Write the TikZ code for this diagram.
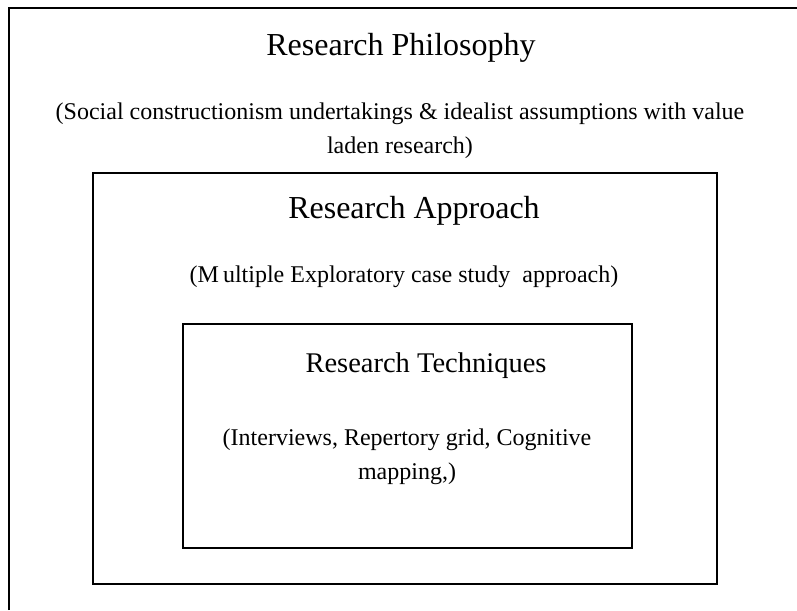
\documentclass[tikz,border=0pt]{standalone}
\usepackage{fontspec}
\setmainfont{Liberation Serif}
\begin{document}
\begin{tikzpicture}[x=1pt,y=-1pt,
  frame/.style={draw=black,line width=1.6pt},
  boxnode/.style={frame,rectangle,inner sep=0pt},
  headtext/.style={anchor=base,inner sep=0pt,font=\fontsize{32}{38}\selectfont},
  headsmall/.style={anchor=base,inner sep=0pt,font=\fontsize{28.5}{34}\selectfont},
  bodytext/.style={anchor=base,inner sep=0pt,align=center,font=\fontsize{24}{34}\selectfont}]
\useasboundingbox (0,0) rectangle (797,610);
% outer frame (cropped at right and bottom)
\coordinate (ol) at (9,610);
\coordinate (otl) at (9,8);
\coordinate (otr) at (797,8);
\draw[frame] (ol) -- (otl) -- (otr);
% middle and inner boxes
\node[boxnode,minimum width=624pt,minimum height=411pt] (approach) at (405,378.5) {};
\node[boxnode,minimum width=449pt,minimum height=224pt] (techniques) at (407.5,436) {};
% texts
\node[headtext] (philtitle) at (401,56) {Research Philosophy};
\node[bodytext] (philtext) at (400,153) {(Social constructionism undertakings \& idealist assumptions with value\\laden research)};
\node[headtext] (apptitle) at (414,218) {Research Approach};
\node[bodytext] (apptext) at (404,282) {(M\,ultiple Exploratory case study\ \ approach)};
\node[headsmall] (techtitle) at (426,372) {Research Techniques};
\node[bodytext] (techtext) at (407,479) {(Interviews, Repertory grid, Cognitive\\mapping,)};
\end{tikzpicture}
\end{document}
